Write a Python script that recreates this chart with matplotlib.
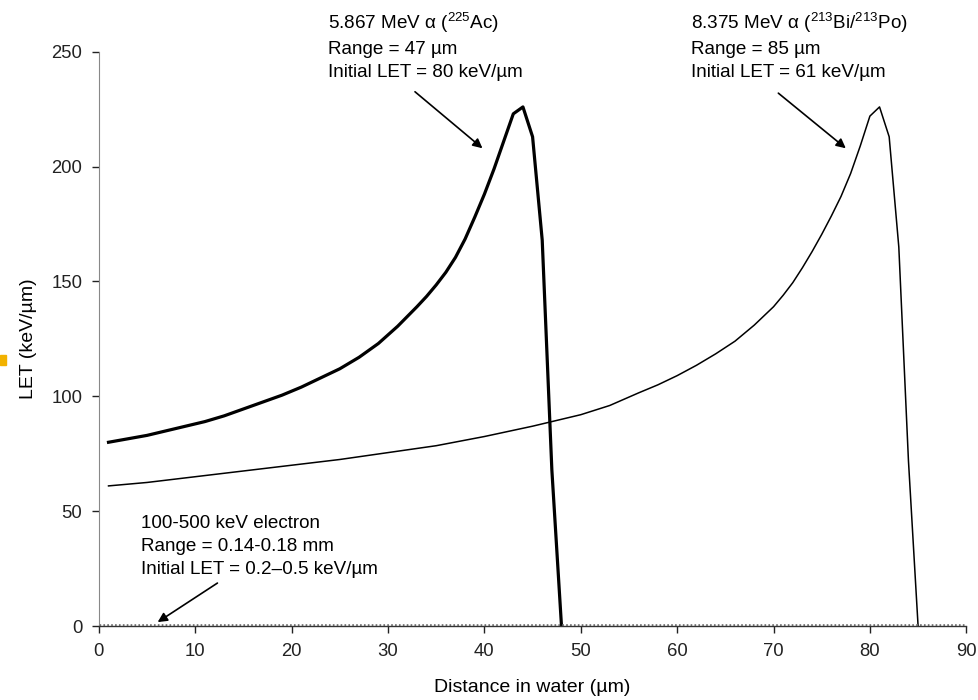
import matplotlib
matplotlib.use('Agg')
import matplotlib.pyplot as plt
from matplotlib.patches import Rectangle

plt.rcParams['font.family'] = ['Liberation Sans', 'DejaVu Sans']
plt.rcParams['mathtext.fontset'] = 'custom'
plt.rcParams['mathtext.rm'] = 'Liberation Sans'

# 5.867 MeV alpha (225Ac) - thick curve
ac_x = [1, 3, 5, 7, 9, 11, 13, 15, 17, 19, 21, 23, 25, 27, 29, 31, 33, 34, 35, 36, 37, 38, 39,
        40, 41, 42, 43, 44, 45, 46, 47, 48]
ac_y = [80, 81.5, 83, 85, 87, 89, 91.5, 94.5, 97.5, 100.5, 104, 108, 112, 117, 123, 130.5, 139,
        143.5, 148.5, 154, 160.5, 168.5, 178, 188, 199, 211, 223, 226, 213, 168, 68, 0]

# 8.375 MeV alpha (213Bi/213Po) - thin curve
bi_x = [1, 5, 10, 15, 20, 25, 30, 35, 40, 45, 50, 53, 56, 58, 60, 62, 64, 66, 68, 70, 71, 72,
        73, 74, 75, 76, 77, 78, 79, 80, 81, 82, 83, 84, 85]
bi_y = [61, 62.5, 65, 67.5, 70, 72.5, 75.5, 78.5, 82.5, 87, 92, 96, 101.5, 105, 109, 113.5, 118.5,
        124, 131, 139, 144, 149.5, 156, 163, 170.5, 178.5, 187, 197, 209, 222, 226, 213, 165, 72, 0]

# 100-500 keV electron (LET ~0.2-0.5)
el_x = [0, 90]
el_y = [0.4, 0.4]

x_ticks = [0, 10, 20, 30, 40, 50, 60, 70, 80, 90]
y_ticks = [0, 50, 100, 150, 200, 250]

fig = plt.figure(figsize=(9.79, 7.0), dpi=100)
ax = fig.add_axes([0.101, 0.1057, 0.886, 0.8203])

ax.plot(ac_x, ac_y, color='black', lw=2.3)
ax.plot(bi_x, bi_y, color='black', lw=1.1)
ax.plot(el_x, el_y, color='#777777', lw=2.0, linestyle=(0, (0.6, 0.8)))

ax.set_xlim(0, 90)
ax.set_ylim(0, 250)
ax.set_xticks(x_ticks)
ax.set_yticks(y_ticks)
ax.tick_params(direction='out', length=5, width=1, labelsize=13.3, colors='#222222', pad=7)
ax.spines['top'].set_visible(False)
ax.spines['right'].set_visible(False)
ax.spines['left'].set_color('#888888')
ax.spines['bottom'].set_color('#333333')
ax.spines['bottom'].set_linewidth(1.0)

ax.set_xlabel('Distance in water (µm)', fontsize=14, labelpad=14)
ax.set_ylabel('LET (keV/µm)', fontsize=14, labelpad=10)

fs = 13.6
ax.text(23.8, 252.6, '5.867 MeV α ($^{\\mathregular{225}}$Ac)\nRange = 47 µm\nInitial LET = 80 keV/µm',
        fontsize=fs, va='center', ha='left', linespacing=1.45, clip_on=False)
ax.text(61.4, 252.6, '8.375 MeV α ($^{\\mathregular{213}}$Bi/$^{\\mathregular{213}}$Po)\nRange = 85 µm\nInitial LET = 61 keV/µm',
        fontsize=fs, va='center', ha='left', linespacing=1.45, clip_on=False)
ax.text(4.4, 34.6, '100-500 keV electron\nRange = 0.14-0.18 mm\nInitial LET = 0.2\u20130.5 keV/µm',
        fontsize=fs, va='center', ha='left', linespacing=1.45)

arrow = dict(arrowstyle='-|>', color='black', lw=1.2, mutation_scale=14, shrinkA=0, shrinkB=0)
ax.annotate('', xy=(39.8, 208), xytext=(32.8, 232.6), arrowprops=arrow)
ax.annotate('', xy=(77.5, 208), xytext=(70.5, 232), arrowprops=arrow)
ax.annotate('', xy=(6.1, 1.7), xytext=(12.3, 18.7), arrowprops=arrow)

# small yellow mark at the left edge
fig.patches.append(Rectangle((0, 1 - 365 / 700), 6 / 979, 10 / 700, transform=fig.transFigure,
                             color='#F2B200', zorder=5))

fig.savefig('out.png', dpi=100)
